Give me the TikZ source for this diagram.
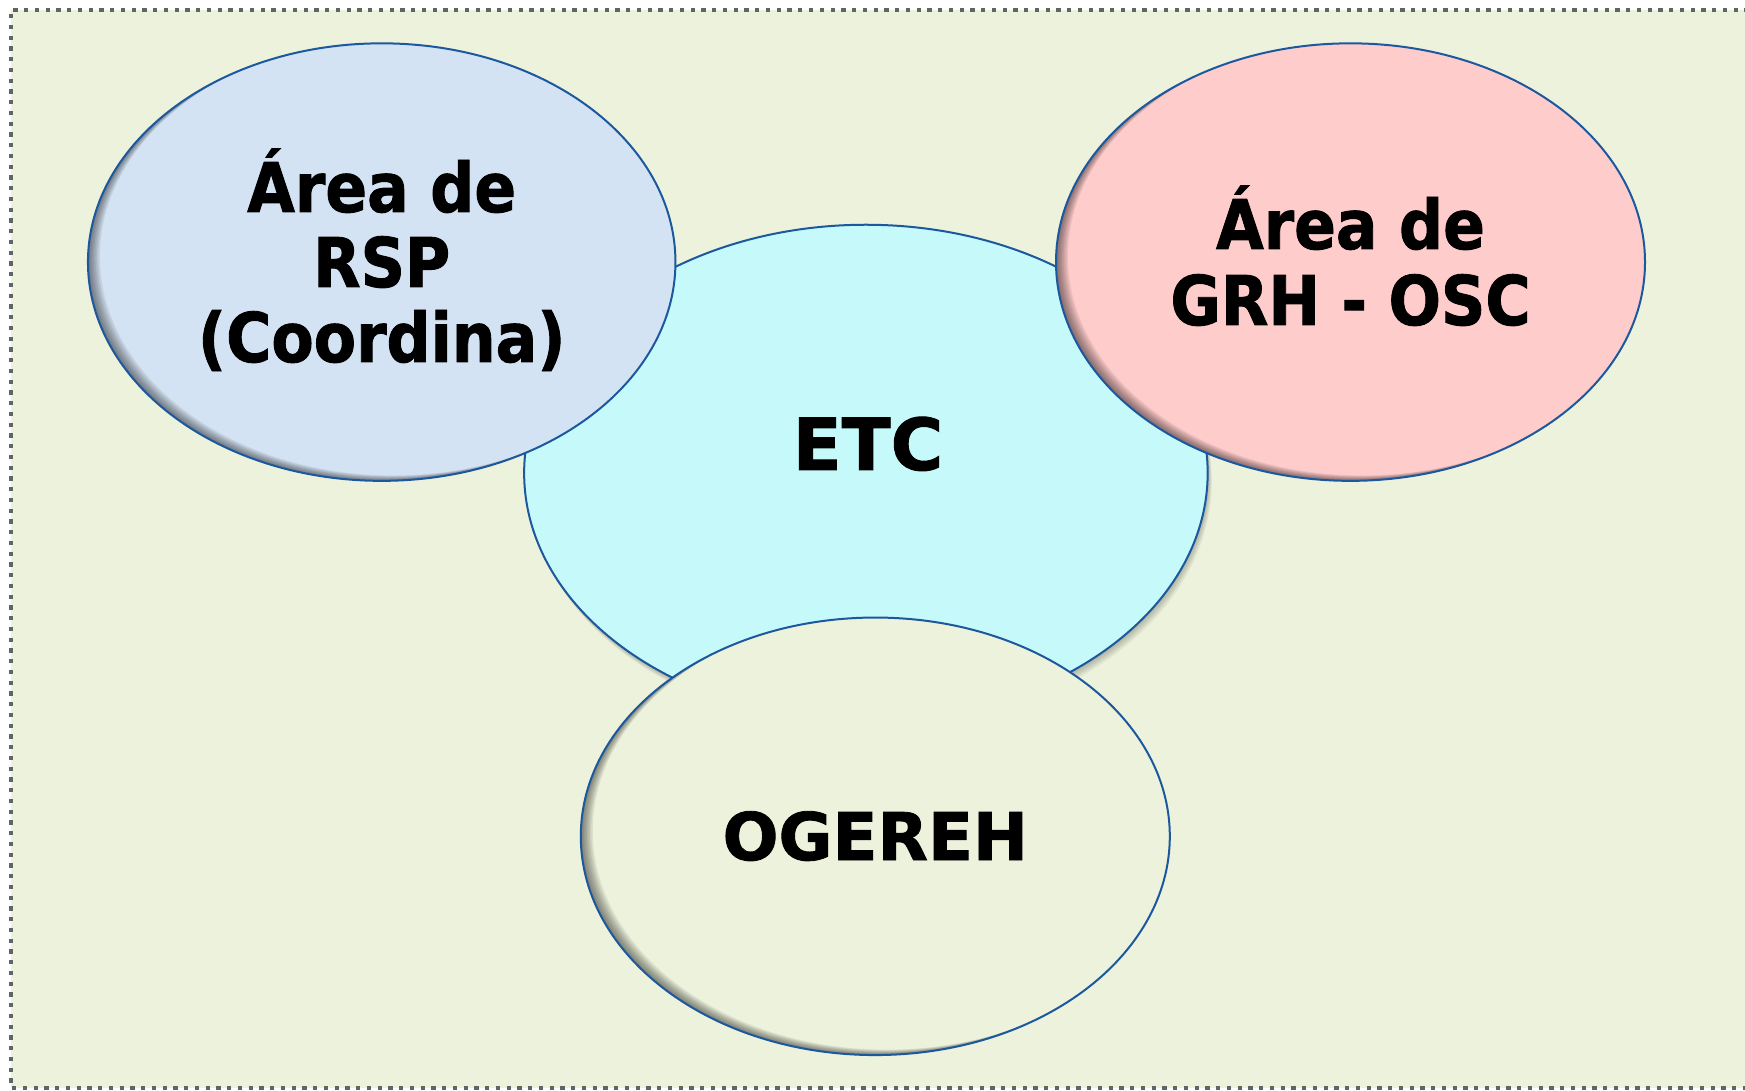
\documentclass[tikz,border=0pt]{standalone}
\usepackage{fontspec}
\setmainfont{DejaVu Sans}[FakeBold=1.3]
\newfontfamily\condfont{DejaVu Sans}[FakeStretch=0.9,FakeBold=1.3]
\usetikzlibrary{shapes.geometric,calc}
\definecolor{bgc}{RGB}{237,242,220}
\definecolor{bordc}{RGB}{95,100,100}
\definecolor{edgec}{RGB}{28,88,158}
\definecolor{etcc}{RGB}{198,250,250}
\definecolor{grhc}{RGB}{255,204,204}
\definecolor{rspc}{RGB}{212,227,243}
\definecolor{ogc}{RGB}{237,242,220}
\tikzset{
  outl/.style={ellipse, draw=edgec, line width=0.8pt, inner sep=0pt},
  bigtxt/.style={font=\condfont\bfseries\fontsize{27.4}{30}\selectfont, anchor=base, inner sep=0pt},
  etctxt/.style={font=\bfseries\fontsize{28.7}{30}\selectfont, anchor=base, inner sep=0pt},
  ogtxt/.style={font=\bfseries\fontsize{26.3}{30}\selectfont, anchor=base, inner sep=0pt},
  shade1/.style={black, opacity=0.07, even odd rule}
}
\begin{document}
\begin{tikzpicture}[x=0.4pt,y=-0.4pt]
\fill[white] (0,0) rectangle (1745,1091);
\useasboundingbox (0,0) rectangle (1745,1091);
\fill[bgc] (11,10) rectangle (1770,1088);
\draw[bordc, line width=1.4pt, dash pattern=on 1.7pt off 2.6pt] (1770,10) -- (11,10) -- (11,1088) -- (1770,1088);

% ETC drop shadow
\foreach \d in {1,2,...,7}
  \fill[black, opacity=0.04] ($(865.9,473)+(0.6*\d,1.2*\d)$) ellipse [x radius=136.7pt, y radius=99.3pt];
\fill[etcc] (865.9,473) ellipse [x radius=136.7pt, y radius=99.3pt];
\node[outl, minimum width=273.4pt, minimum height=198.6pt] (etc) at (865.9,473) {};

% RSP
\fill[rspc] (381.7,262.1) ellipse [x radius=117.5pt, y radius=87.5pt];
\begin{scope}
  \clip (381.7,262.1) ellipse [x radius=117.5pt, y radius=87.5pt];
  \foreach \d in {1.5,3,...,12}
    \fill[shade1] (0,0) rectangle (900,600) ($(381.7,262.1)+(\d,-0.45*\d)$) ellipse [x radius=117.5pt, y radius=87.5pt];
\end{scope}
\node[outl, minimum width=235pt, minimum height=175pt] (rsp) at (381.7,262.1) {};

% GRH
\fill[grhc] (1350.5,262.1) ellipse [x radius=117.8pt, y radius=87.5pt];
\begin{scope}
  \clip (1350.5,262.1) ellipse [x radius=117.8pt, y radius=87.5pt];
  \foreach \d in {1.5,3,...,12}
    \fill[shade1] (900,0) rectangle (1800,600) ($(1350.5,262.1)+(\d,-0.45*\d)$) ellipse [x radius=117.8pt, y radius=87.5pt];
\end{scope}
\node[outl, minimum width=235.6pt, minimum height=175pt] (grh) at (1350.5,262.1) {};

% OGEREH
\fill[ogc] (875.3,836.3) ellipse [x radius=117.8pt, y radius=87.5pt];
\begin{scope}
  \clip (875.3,836.3) ellipse [x radius=117.8pt, y radius=87.5pt];
  \foreach \d in {1.5,3,...,12}
    \fill[shade1] (400,500) rectangle (1400,1100) ($(875.3,836.3)+(\d,-0.45*\d)$) ellipse [x radius=117.8pt, y radius=87.5pt];
\end{scope}
\node[outl, minimum width=235.6pt, minimum height=175pt] (og) at (875.3,836.3) {};

% texts
\node[bigtxt] (rspA) at (381.7,212) {Área de};
\node[bigtxt] (rspB) at (381.7,287) {RSP};
\node[bigtxt] (rspC) at (381.7,362) {(Coordina)};
\node[bigtxt] (grhA) at (1350.5,249) {Área de};
\node[bigtxt] (grhB) at (1350.5,325) {GRH - OSC};
\node[etctxt] (etcA) at (868,470) {ETC};
\node[ogtxt] (ogA) at (875.3,860) {OGEREH};
\end{tikzpicture}
\end{document}
